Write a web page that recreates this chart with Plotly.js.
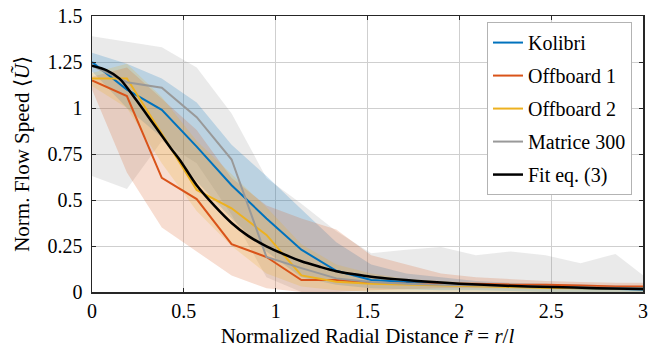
<!DOCTYPE html>
<html>
<head>
<meta charset="utf-8">
<script src="https://cdn.plot.ly/plotly-3.0.1.min.js"></script>
<style>
  html, body { margin: 0; padding: 0; background: #fff; }
  #chart { width: 658px; height: 358px; }
</style>
</head>
<body>
<div id="chart"></div>
<script>
"use strict"

// radial positions of the measurements (last one lies just past the axis end)
var r = [0, 0.19, 0.38, 0.57, 0.76, 0.95, 1.14, 1.33, 1.52, 1.71, 1.90, 2.09, 2.28, 2.47, 2.66, 2.85, 3.04];

// mean normalized flow speed per platform
var kolibri  = [1.25, 1.10, 0.99, 0.79, 0.58, 0.40, 0.23, 0.115, 0.065, 0.055, 0.045, 0.04, 0.03, 0.025, 0.02, 0.015, 0.012];
var offboard1 = [1.15, 1.065, 0.62, 0.505, 0.26, 0.19, 0.065, 0.065, 0.05, 0.045, 0.045, 0.045, 0.04, 0.04, 0.035, 0.03, 0.03];
var offboard2 = [1.16, 1.16, 0.86, 0.555, 0.455, 0.31, 0.09, 0.056, 0.045, 0.04, 0.035, 0.03, 0.025, 0.022, 0.02, 0.018, 0.017];
var matrice  = [1.23, 1.14, 1.11, 0.95, 0.72, 0.19, 0.13, 0.074, 0.055, 0.045, 0.04, 0.035, 0.03, 0.028, 0.025, 0.022, 0.02];

// spread bands (upper / lower)
var kolibriUp  = [1.30, 1.24, 1.16, 1.03, 0.80, 0.63, 0.45, 0.27, 0.15, 0.10, 0.08, 0.06, 0.05, 0.045, 0.04, 0.035, 0.03];
var kolibriLo  = [1.20, 1.00, 0.84, 0.60, 0.40, 0.22, 0.08, 0.04, 0.02, 0.015, 0.01, 0.01, 0.005, 0, 0, 0, 0];
var offboard1Up = [1.17, 1.22, 1.05, 0.88, 0.62, 0.47, 0.40, 0.34, 0.20, 0.15, 0.10, 0.08, 0.07, 0.06, 0.055, 0.05, 0.05];
var offboard1Lo = [1.10, 0.65, 0.35, 0.22, 0.09, 0.02, 0, 0, 0.01, 0.015, 0.02, 0.02, 0.02, 0.02, 0.02, 0.015, 0.015];
var offboard2Up = [1.19, 1.24, 1.06, 0.82, 0.64, 0.46, 0.26, 0.15, 0.10, 0.07, 0.06, 0.05, 0.045, 0.04, 0.035, 0.03, 0.03];
var offboard2Lo = [1.12, 1.00, 0.70, 0.44, 0.25, 0.10, 0.03, 0.01, 0, 0, 0, 0, 0, 0, 0, 0, 0];
var matriceUp  = [1.39, 1.36, 1.33, 1.22, 0.97, 0.62, 0.48, 0.33, 0.21, 0.23, 0.245, 0.20, 0.22, 0.20, 0.156, 0.207, 0.06];
var matriceLo  = [0.63, 0.56, 0.82, 0.70, 0.42, 0.08, 0, 0, 0, 0, 0, 0, 0, 0, 0, 0, 0];

// fitted curve
var rFit   = [0, 0.08, 0.15, 0.24, 0.33, 0.43, 0.48, 0.57, 0.67, 0.76, 0.85, 0.95, 1.05, 1.14, 1.24, 1.33, 1.43, 1.52, 1.65, 1.77, 1.9, 2.0, 2.25, 2.5, 2.75, 3.0];
var fitVal = [1.23, 1.205, 1.16, 1.045, 0.92, 0.78, 0.715, 0.58, 0.465, 0.375, 0.305, 0.248, 0.203, 0.167, 0.137, 0.113, 0.096, 0.083, 0.07, 0.06, 0.051, 0.045, 0.034, 0.027, 0.021, 0.016];

var names = ['Kolibri', 'Offboard 1', 'Offboard 2', 'Matrice 300'];
var colors = ['#0072BD', '#D95319', '#EDB120', '#999999'];
var fills = ['rgba(0,114,189,0.2)', 'rgba(217,83,25,0.2)', 'rgba(237,177,32,0.2)', 'rgba(128,128,128,0.17)'];

var means = [kolibri, offboard1, offboard2, matrice];
var ups = [kolibriUp, offboard1Up, offboard2Up, matriceUp];
var los = [kolibriLo, offboard1Lo, offboard2Lo, matriceLo];

function band(up, lo, fill){
	var rBack = r.slice().reverse();
	return {
		x: r.concat(rBack),
		y: up.concat(lo.slice().reverse()),
		type: 'scatter',
		mode: 'lines',
		fill: 'toself',
		fillcolor: fill,
		line: {width: 0},
		hoverinfo: 'skip',
		showlegend: false
	};
}

function draw(){
	var dataList = [];
	// gray band at the back, then the others
	var bandOrder = [3, 0, 1, 2];
	for(var k=0;k<bandOrder.length;k++){
		var b = bandOrder[k];
		dataList.push(band(ups[b], los[b], fills[b]));
	}
	for(var i=0;i<names.length;i++){
		dataList.push({
			x: r,
			y: means[i],
			type: 'scatter',
			mode: 'lines',
			name: names[i],
			legendgroup: 'g' + i,
			line: {color: colors[i], width: 2}
		});
	}
	dataList.push({
		x: rFit,
		y: fitVal,
		type: 'scatter',
		mode: 'lines',
		name: 'Fit eq. (3)',
		legendgroup: 'g4',
		line: {color: '#000000', width: 2.5, shape: 'spline', smoothing: 0.8}
	});

	var serifFont = 'Liberation Serif';
	var layout = {
		width: 658,
		height: 358,
		margin: {l: 92, r: 15, t: 16, b: 66, pad: 0},
		paper_bgcolor: '#ffffff',
		plot_bgcolor: '#ffffff',
		font: {family: serifFont, size: 20, color: '#000000'},
		showlegend: true,
		legend: {
			x: 0.98, y: 0.978, xanchor: 'right', yanchor: 'top',
			bgcolor: '#ffffff',
			bordercolor: '#b3b3b3',
			borderwidth: 1,
			traceorder: 'grouped',
			tracegroupgap: 4,
			font: {family: serifFont, size: 20, color: '#000000'}
		},
		xaxis: {
			range: [0, 3],
			dtick: 0.5,
			showgrid: true,
			gridcolor: '#cfcfcf',
			gridwidth: 1,
			zeroline: false,
			showline: true,
			linecolor: '#262626',
			linewidth: 1.5,
			mirror: 'ticks',
			ticks: 'inside',
			ticklen: 4,
			tickcolor: '#262626',
			tickfont: {family: serifFont, size: 20, color: '#000000'},
			title: {text: 'Normalized Radial Distance <i>r\u0303</i> = <i>r</i>/<i>l</i>', standoff: 8,
				font: {family: serifFont, size: 21, color: '#000000'}}
		},
		yaxis: {
			range: [0, 1.5],
			dtick: 0.25,
			showgrid: true,
			gridcolor: '#cfcfcf',
			gridwidth: 1,
			zeroline: false,
			showline: true,
			linecolor: '#262626',
			linewidth: 1.5,
			mirror: 'ticks',
			ticks: 'inside',
			ticklen: 4,
			tickcolor: '#262626',
			ticklabelstandoff: 4,
			tickfont: {family: serifFont, size: 20, color: '#000000'},
			title: {text: 'Norm. Flow Speed \u27E8<i>\u0168</i>\u27E9', standoff: 12,
				font: {family: serifFont, size: 21, color: '#000000'}}
		}
	};

	Plotly.newPlot('chart', dataList, layout, {staticPlot: true});
}

if(document.fonts && document.fonts.load){
	Promise.all([
		document.fonts.load('20px "Liberation Serif"'),
		document.fonts.load('italic 20px "Liberation Serif"')
	]).then(draw, draw);
} else {
	draw();
}
</script>
</body>
</html>
